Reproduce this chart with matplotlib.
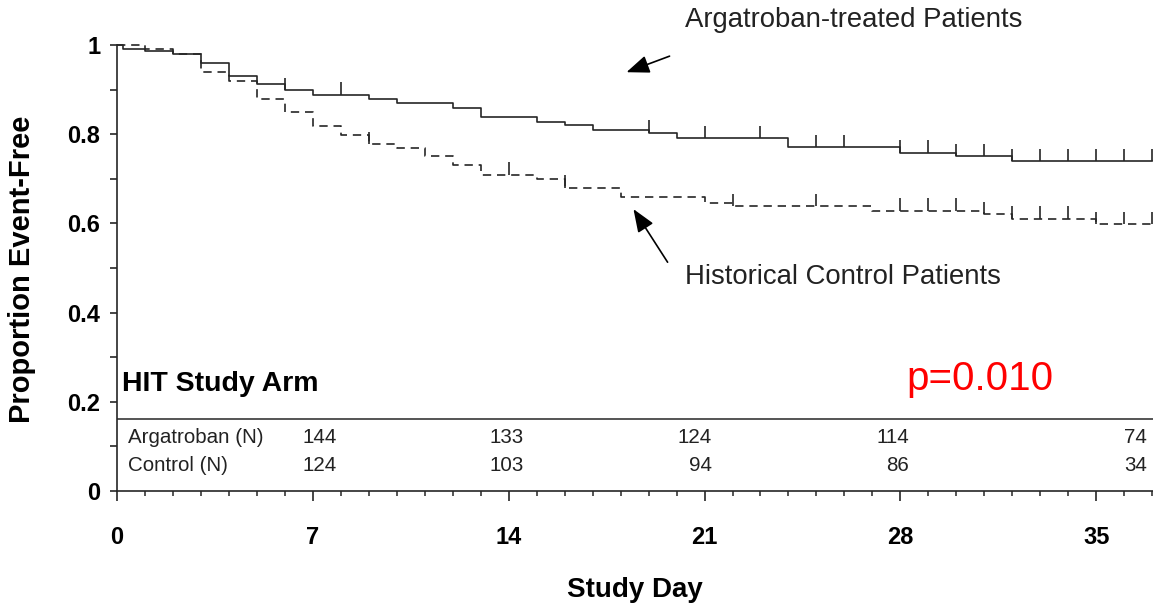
import numpy as np
import matplotlib.pyplot as plt

plt.rcParams['font.family'] = ['Liberation Sans', 'DejaVu Sans']

# Kaplan-Meier steps: day of event and proportion event-free after it
arg_days = [0, 0.2, 1, 2, 3, 4, 5, 6, 7, 9, 10, 12, 13, 15, 16, 17, 19, 20, 24, 28, 30, 32]
arg_surv = [1.0, 0.99, 0.986, 0.98, 0.96, 0.93, 0.913, 0.899, 0.889, 0.879, 0.87, 0.859,
            0.839, 0.827, 0.821, 0.81, 0.803, 0.791, 0.771, 0.758, 0.751, 0.739]
arg_cens = [6, 8, 19, 21, 23, 25, 26, 28, 29, 30, 31, 32, 33, 34, 35, 36, 37]

ctl_days = [0, 1, 2, 3, 4, 5, 6, 7, 8, 9, 10, 11, 12, 13, 15, 16, 18, 21, 22, 27, 31, 32, 35]
ctl_surv = [1.0, 0.99, 0.98, 0.94, 0.919, 0.88, 0.85, 0.818, 0.798, 0.778, 0.769, 0.751,
            0.731, 0.709, 0.70, 0.68, 0.659, 0.646, 0.638, 0.628, 0.62, 0.61, 0.598]
ctl_cens = [9, 14, 16, 22, 25, 28, 29, 30, 31, 32, 33, 34, 35, 36, 37]

# number at risk
risk_days = [7, 14, 21, 28, 35]
arg_n = [144, 133, 124, 114, 74]
ctl_n = [124, 103, 94, 86, 34]
risk_label_x = [7.86, 14.55, 21.25, 28.32, 36.82]

end_day = 37
line_col = '#262626'


def km_at(days, surv, t):
    i = np.searchsorted(days, t, side='right') - 1
    return surv[i]


fig = plt.figure(figsize=(11.53, 6.08), dpi=100)
ax = fig.add_axes([117 / 1153, 117 / 608, 1036 / 1153, 490.6 / 608])

ax.step(arg_days + [end_day], arg_surv + [arg_surv[-1]], where='post',
        color=line_col, lw=1.2)
ax.step(ctl_days + [end_day], ctl_surv + [ctl_surv[-1]], where='post',
        color=line_col, lw=1.2, linestyle=(0, (5, 3.5)))

tick_h = 0.028
for t in arg_cens:
    s = km_at(arg_days, arg_surv, t)
    ax.vlines(t, s, s + tick_h, color=line_col, lw=1.2, clip_on=False)
for t in ctl_cens:
    s = km_at(ctl_days, ctl_surv, t)
    ax.vlines(t, s, s + tick_h, color=line_col, lw=1.2, clip_on=False)

# at-risk table
ax.axhline(0.161, color=line_col, lw=1.1)
ax.text(0.4, 0.121, 'Argatroban (N)', fontsize=14.8, va='center', color='#222222')
ax.text(0.4, 0.058, 'Control (N)', fontsize=14.8, va='center', color='#222222')
for x, a, c in zip(risk_label_x, arg_n, ctl_n):
    ax.text(x, 0.121, str(a), fontsize=14.8, va='center', ha='right', color='#222222')
    ax.text(x, 0.058, str(c), fontsize=14.8, va='center', ha='right', color='#222222')

ax.text(0.18, 0.24, 'HIT Study Arm', fontsize=20.5, fontweight='bold', va='center')
ax.text(28.2, 0.226, 'p=0.010', fontsize=29, color='#ff0000', va='baseline')

arrow = dict(arrowstyle='-|>,head_length=1.4,head_width=0.55', color='k', lw=1.2,
             shrinkA=0, shrinkB=0)
ax.annotate('', xy=(18.21, 0.939), xytext=(19.75, 0.975), arrowprops=arrow,
            annotation_clip=False)
ax.text(20.32, 1.056, 'Argatroban-treated Patients', fontsize=19.8, va='center',
        color='#222222')
ax.annotate('', xy=(18.46, 0.632), xytext=(19.68, 0.513), arrowprops=arrow,
            annotation_clip=False)
ax.text(20.32, 0.48, 'Historical Control Patients', fontsize=19.8, va='center',
        color='#222222')

ax.set_xlim(0, 37.03)
ax.set_ylim(0, 1.1)
ax.spines['top'].set_visible(False)
ax.spines['right'].set_visible(False)
ax.spines['left'].set_bounds(0, 1)
for sp in ('left', 'bottom'):
    ax.spines[sp].set_color(line_col)
    ax.spines[sp].set_linewidth(1.2)

ax.set_xticks(np.arange(0, 36, 7))
ax.set_xticks(np.arange(0, 38, 1), minor=True)
ax.set_yticks([0, 0.2, 0.4, 0.6, 0.8, 1.0])
ax.set_yticklabels(['0', '0.2', '0.4', '0.6', '0.8', '1'])
ax.set_yticks(np.arange(0, 1.01, 0.1), minor=True)
ax.tick_params(axis='x', which='major', length=7, width=1.2, pad=18, labelsize=17,
               color=line_col)
ax.tick_params(axis='x', which='minor', length=3.8, width=1.1, color=line_col)
ax.tick_params(axis='y', which='both', length=5, width=1.2, pad=7, labelsize=17,
               color=line_col)
for lab in ax.get_xticklabels() + ax.get_yticklabels():
    lab.set_fontweight('bold')

fig.text(635 / 1153, (608 - 590) / 608, 'Study Day', fontsize=20, fontweight='bold',
         ha='center', va='center')
fig.text(22 / 1153, (608 - 269) / 608, 'Proportion Event-Free', fontsize=21,
         fontweight='bold', rotation=90, ha='center', va='center')

plt.savefig('out.png', dpi=100)
plt.close(fig)
